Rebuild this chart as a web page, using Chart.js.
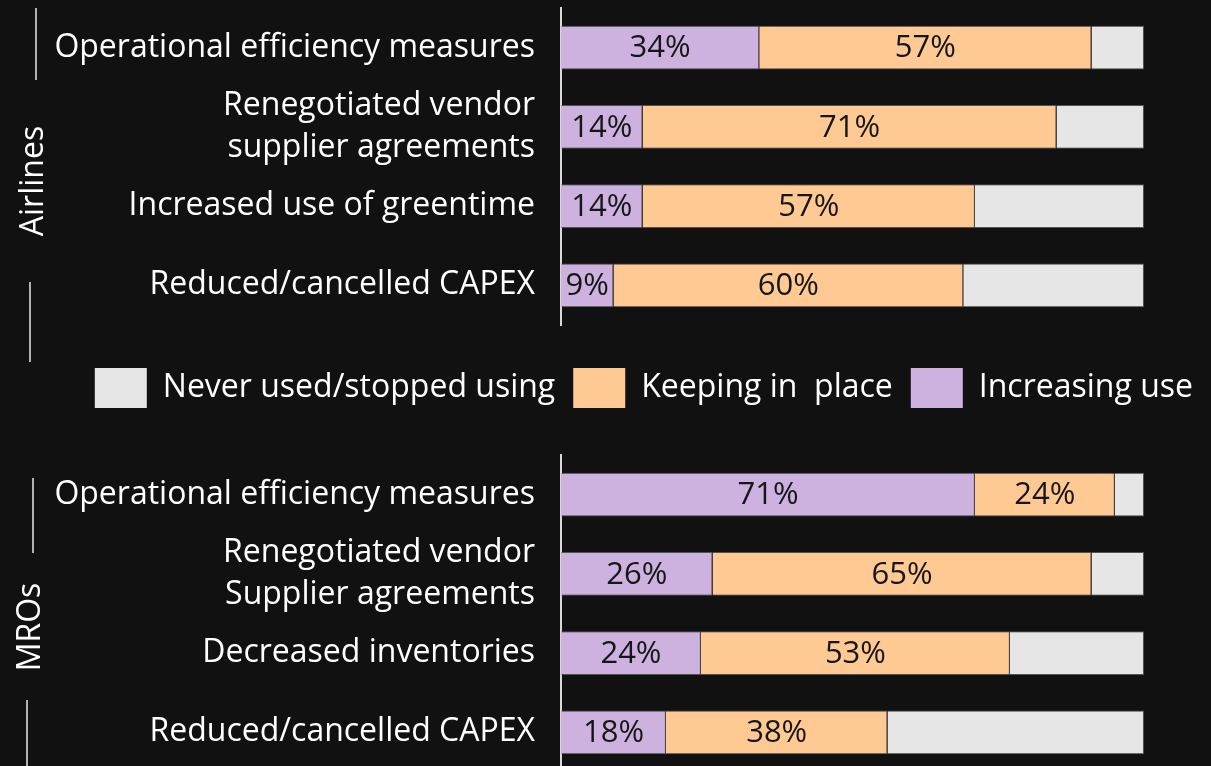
<!DOCTYPE html>
<html lang="en">
<head>
  <meta charset="UTF-8" />
  <title>cost measures</title>
  <script src="https://cdn.jsdelivr.net/npm/chart.js"></script>
<style>
  body {
    background-color: #111111;
    margin: 0;
    overflow: hidden;
    width: 1211px;
    height: 766px;
  }
  .box {
    position: absolute;
    left: 0;
  }
  #topBox { top: 0; }
  #bottomBox { top: 440px; }
</style>
</head>
<body>

  <div class="box" id="topBox"><canvas id="airlines" width="1211" height="430"></canvas></div>
  <div class="box" id="bottomBox"><canvas id="mros" width="1211" height="340"></canvas></div>

  <script>
    const seriesNames = ['Increasing use', 'Keeping in  place', 'Never used/stopped using'];

    const airlineLabels = [
      'Operational efficiency measures',
      ['Renegotiated vendor', 'supplier agreements'],
      'Increased use of greentime',
      'Reduced/cancelled CAPEX'
    ];
    const airlineIncreasing = [34, 14, 14, 9];
    const airlineKeeping = [57, 71, 57, 60];
    const airlineNever = [9, 15, 29, 31];

    const mroLabels = [
      'Operational efficiency measures',
      ['Renegotiated vendor', 'Supplier agreements'],
      'Decreased inventories',
      'Reduced/cancelled CAPEX'
    ];
    const mroIncreasing = [71, 26, 24, 18];
    const mroKeeping = [24, 65, 53, 38];
    const mroNever = [5, 9, 23, 44];

    const purple = '#cdb2e0';
    const orange = '#ffc993';
    const grey = '#e6e6e6';
    const FONT = '"Open Sans", sans-serif';

    Chart.defaults.font.family = FONT;
    Chart.defaults.color = '#ffffff';

    // percent text in the middle of each coloured segment
    const barLabels = {
      id: 'barLabels',
      afterDatasetsDraw(chart) {
        const ctx = chart.ctx;
        ctx.save();
        ctx.font = '31px ' + FONT;
        ctx.fillStyle = '#161616';
        ctx.textAlign = 'center';
        ctx.textBaseline = 'middle';
        chart.data.datasets.forEach((ds, i) => {
          if (!ds.showValue) return;
          chart.getDatasetMeta(i).data.forEach((bar, j) => {
            const p = bar.getProps(['x', 'y', 'base'], true);
            ctx.fillText(ds.data[j] + '%', (p.x + p.base) / 2, p.y + 1);
          });
        });
        ctx.restore();
      }
    };

    // rotated group name with the bracket lines of the category axis
    const groupLabel = {
      id: 'groupLabel',
      afterDraw(chart, args, opts) {
        if (!opts.text) return;
        const ctx = chart.ctx;
        ctx.save();
        ctx.strokeStyle = '#e8e8e8';
        ctx.lineWidth = 1.5;
        opts.lines.forEach(l => {
          ctx.beginPath();
          ctx.moveTo(l[0], l[1]);
          ctx.lineTo(l[0], l[2]);
          ctx.stroke();
        });
        ctx.translate(opts.x, opts.y);
        ctx.rotate(-Math.PI / 2);
        ctx.font = '32px ' + FONT;
        ctx.fillStyle = '#ffffff';
        ctx.textAlign = 'center';
        ctx.textBaseline = 'middle';
        ctx.fillText(opts.text, 0, 0);
        ctx.restore();
      }
    };

    function makeDatasets(inc, keep, never) {
      const common = { borderColor: 'rgba(110,110,110,0.7)', borderWidth: 1, borderSkipped: 'start' };
      return [
        Object.assign({ label: seriesNames[0], data: inc, backgroundColor: purple, showValue: true }, common),
        Object.assign({ label: seriesNames[1], data: keep, backgroundColor: orange, showValue: true }, common),
        Object.assign({ label: seriesNames[2], data: never, backgroundColor: grey, showValue: false }, common)
      ];
    }

    function makeChart(id, labels, datasets, opts) {
      return new Chart(document.getElementById(id), {
        type: 'bar',
        data: { labels: labels, datasets: datasets },
        plugins: [barLabels, groupLabel],
        options: {
          indexAxis: 'y',
          responsive: false,
          animation: false,
          layout: { padding: opts.padding, autoPadding: false },
          datasets: { bar: { categoryPercentage: 1, barPercentage: 0.555 } },
          plugins: {
            tooltip: { enabled: false },
            groupLabel: opts.group,
            legend: {
              display: opts.legend,
              position: 'bottom',
              align: 'end',
              reverse: true,
              labels: {
                color: '#ffffff',
                font: { size: 32 },
                boxWidth: 52,
                boxHeight: 40,
                padding: 18,
                generateLabels(chart) {
                  return Chart.defaults.plugins.legend.labels.generateLabels(chart).map(item => {
                    item.lineWidth = 0;
                    item.strokeStyle = 'rgba(0,0,0,0)';
                    return item;
                  });
                }
              }
            }
          },
          scales: {
            x: {
              stacked: true,
              min: 0,
              max: 100,
              display: opts.legend,
              grid: { display: false },
              border: { display: false },
              ticks: { display: false },
              afterFit(s) { s.height = opts.legend ? 25 : 0; }
            },
            y: {
              stacked: true,
              grid: { display: false, drawTicks: false },
              border: { display: true, color: '#d9d9d9', width: 2 },
              ticks: {
                autoSkip: false,
                color: '#ffffff',
                padding: 26,
                font: { size: 32, lineHeight: 1.34 }
              },
              afterFit(s) {
                s.width = 561;
                s.paddingTop = 0;
                s.paddingBottom = 0;
              }
            },
            yRight: {
              position: 'right',
              type: 'linear',
              grid: { display: false },
              border: { display: false },
              ticks: { display: false },
              afterFit(s) { s.width = 67; }
            }
          }
        }
      });
    }

    makeChart('airlines', airlineLabels, makeDatasets(airlineIncreasing, airlineKeeping, airlineNever), {
      padding: { top: 8, left: 0, bottom: 12, right: 0 },
      legend: true,
      group: { text: 'Airlines', x: 34, y: 181, lines: [[36, 8, 80], [30, 282, 362]] }
    });

    makeChart('mros', mroLabels, makeDatasets(mroIncreasing, mroKeeping, mroNever), {
      padding: { top: 15, left: 0, bottom: 8, right: 0 },
      legend: false,
      group: { text: 'MROs', x: 31, y: 187, lines: [[33, 38, 113], [27, 260, 340]] }
    });
  </script>
</body>
</html>
